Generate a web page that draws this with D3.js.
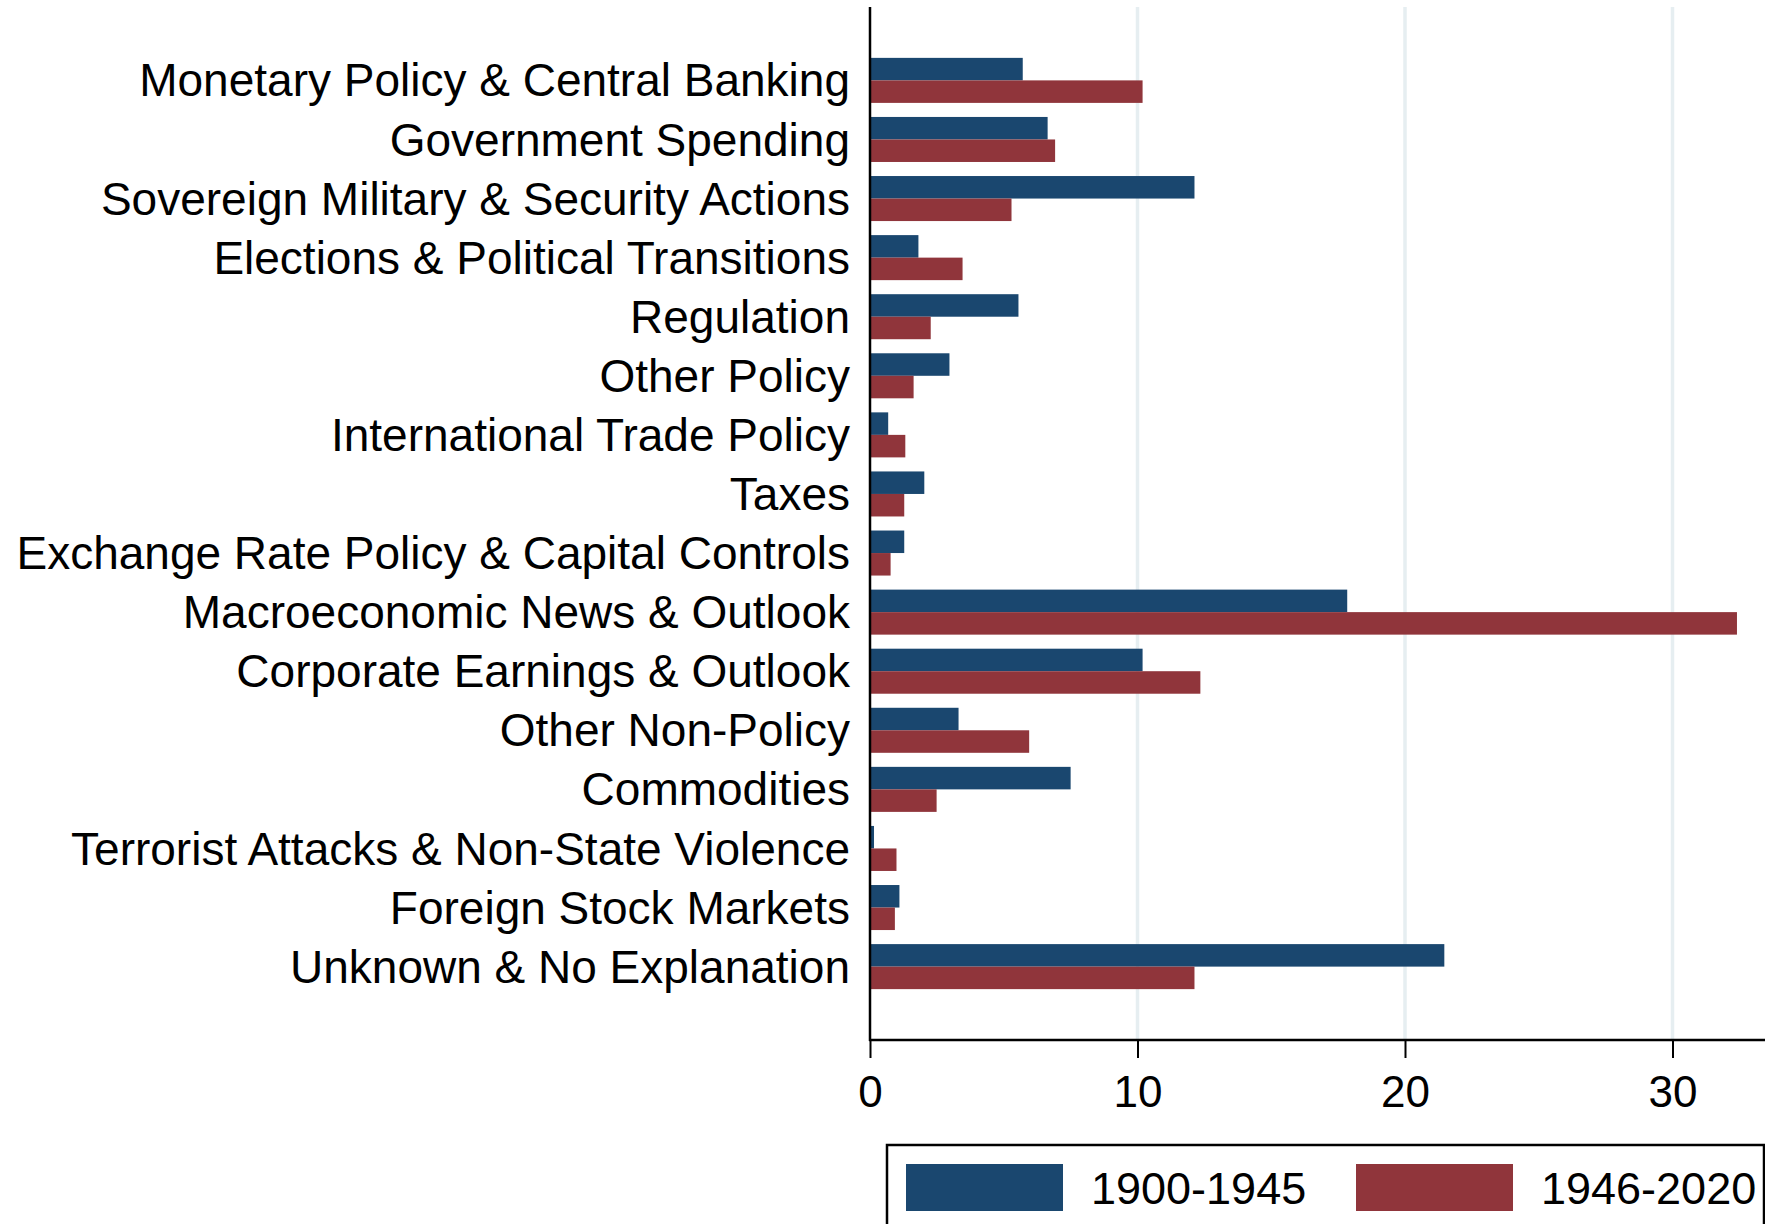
<!DOCTYPE html>
<html>
<head>
<meta charset="utf-8">
<script src="https://cdn.jsdelivr.net/npm/d3@7"></script>
<style>
  body { margin: 0; background: #fff; }
  svg { display: block; font-family: "Liberation Sans", Arial, sans-serif; }
</style>
</head>
<body>
<div class="graph"></div>
<script>

const categories = [
  "Monetary Policy & Central Banking",
  "Government Spending",
  "Sovereign Military & Security Actions",
  "Elections & Political Transitions",
  "Regulation",
  "Other Policy",
  "International Trade Policy",
  "Taxes",
  "Exchange Rate Policy & Capital Controls",
  "Macroeconomic News & Outlook",
  "Corporate Earnings & Outlook",
  "Other Non-Policy",
  "Commodities",
  "Terrorist Attacks & Non-State Violence",
  "Foreign Stock Markets",
  "Unknown & No Explanation"
];

const early = [5.71, 6.64, 12.13, 1.81, 5.55, 2.97, 0.68, 2.03, 1.28, 17.84, 10.19, 3.31, 7.5, 0.15, 1.1, 21.47];
const late  = [10.19, 6.92, 5.29, 3.46, 2.27, 1.63, 1.32, 1.28, 0.77, 32.41, 12.35, 5.95, 2.49, 0.99, 0.93, 12.13];

const seriesNames = ["1900-1945", "1946-2020"];
const xTicks = [0, 10, 20, 30];

const colors = ["#1a476f", "#90353b"];

const W = 1765, H = 1224;
const plot = {left: 870, right: 1765, top: 7, bottom: 1040};

const svg = d3.select(".graph").append("svg")
  .attr("width", W)
  .attr("height", H);

const x = d3.scaleLinear().domain([0, 10]).range([plot.left, plot.left + 267.5]);
const y = d3.scaleBand().domain(categories).range([plot.top, plot.bottom])
  .paddingInner(0.238).paddingOuter(0.861);
const ySub = d3.scaleBand().domain([0, 1]).range([0, y.bandwidth()]);

// grid
svg.append("g")
  .selectAll("line")
  .data(xTicks.filter(d => d > 0))
  .enter().append("line")
    .attr("x1", d => x(d)).attr("x2", d => x(d))
    .attr("y1", plot.top).attr("y2", plot.bottom)
    .attr("stroke", "#e6eef1")
    .attr("stroke-width", 3.5);

const rows = categories.map((c, i) => ({cat: c, vals: [early[i], late[i]]}));

const groups = svg.append("g").selectAll("g")
    .data(rows)
  .enter().append("g")
    .attr("transform", d => "translate(0," + y(d.cat) + ")");

groups.selectAll("rect")
    .data(d => d.vals)
  .enter().append("rect")
    .attr("x", x(0))
    .attr("y", (d, i) => ySub(i))
    .attr("width", d => x(d) - x(0))
    .attr("height", ySub.bandwidth())
    .attr("fill", (d, i) => colors[i]);

// x axis
const xAxis = d3.axisBottom(x).tickValues(xTicks).tickSize(18).tickPadding(18);
const gx = svg.append("g")
    .attr("transform", "translate(0," + plot.bottom + ")")
    .call(xAxis);
gx.select(".domain").remove();
gx.selectAll(".tick line").attr("stroke", "#000").attr("stroke-width", 2);
gx.selectAll(".tick text")
    .attr("font-size", 44)
    .attr("font-family", "Liberation Sans, Arial, sans-serif")
    .attr("fill", "#000");

svg.append("line")
    .attr("x1", plot.left - 1).attr("x2", plot.right)
    .attr("y1", plot.bottom).attr("y2", plot.bottom)
    .attr("stroke", "#000").attr("stroke-width", 2.5);

// y axis
const yAxis = d3.axisLeft(y).tickSize(0).tickPadding(20);
const gy = svg.append("g")
    .attr("transform", "translate(" + plot.left + ",0)")
    .call(yAxis);
gy.select(".domain").remove();
gy.selectAll(".tick text")
    .attr("font-size", 46)
    .attr("font-family", "Liberation Sans, Arial, sans-serif")
    .attr("fill", "#000")
    .attr("dy", "0.35em");

svg.append("line")
    .attr("x1", plot.left).attr("x2", plot.left)
    .attr("y1", plot.top).attr("y2", plot.bottom + 1)
    .attr("stroke", "#000").attr("stroke-width", 2.5);

// legend
const legend = svg.append("g");
legend.append("rect")
    .attr("x", 887).attr("y", 1145)
    .attr("width", 877).attr("height", 120)
    .attr("fill", "#fff")
    .attr("stroke", "#000").attr("stroke-width", 2.5);

const legendX = [906, 1356];
seriesNames.forEach((name, i) => {
  legend.append("rect")
    .attr("x", legendX[i]).attr("y", 1164)
    .attr("width", 157).attr("height", 47)
    .attr("fill", colors[i]);
  legend.append("text")
    .attr("x", legendX[i] + 185).attr("y", 1204)
    .attr("font-size", 45)
    .attr("fill", "#000")
    .text(name);
});

</script>
</body>
</html>
